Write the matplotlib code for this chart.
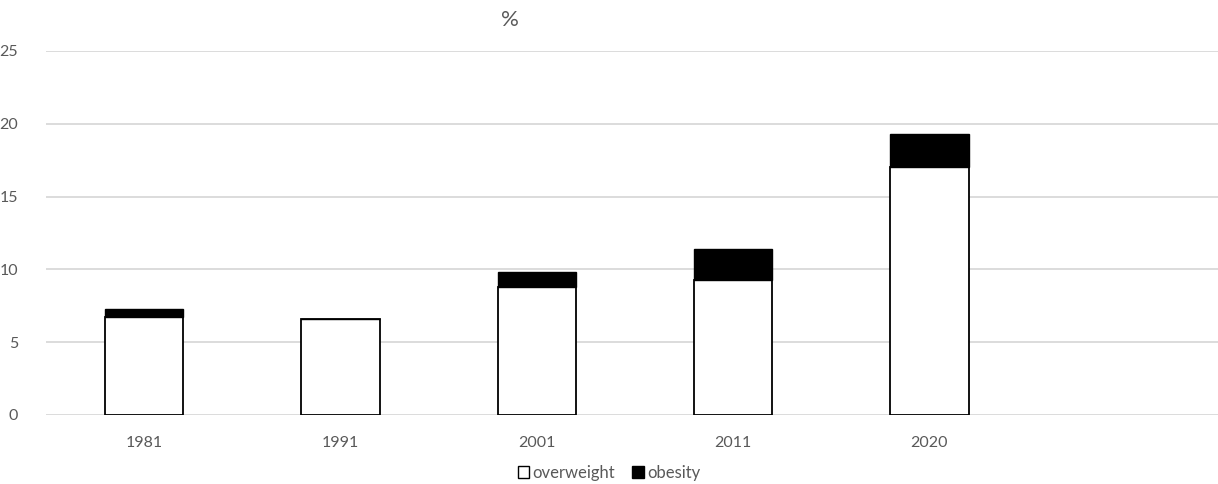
import numpy as np
import matplotlib.pyplot as plt
from matplotlib.patches import Patch

plt.rcParams['font.family'] = ['Lato', 'DejaVu Sans']

years = ['1981', '1991', '2001', '2011', '2020']
overweight = [6.7, 6.6, 8.8, 9.3, 17.0]
obesity = [0.6, 0.0, 1.0, 2.1, 2.3]

grey = '#595959'
grid = '#d9d9d9'

fig = plt.figure(figsize=(12.18, 4.84), dpi=100)
ax = fig.add_axes([46 / 1218, 1 - 415 / 484, 1 - 46 / 1218, (415 - 51) / 484])

x = np.arange(len(years))
w = 0.4
ax.bar(x, overweight, w, color='white', edgecolor='black', linewidth=1.3, zorder=3)
ax.bar(x, obesity, w, bottom=overweight, color='black', edgecolor='black',
       linewidth=1.0, zorder=3)

# an empty sixth slot is left on the right
ax.set_xlim(-0.5, 5.47)
ax.set_ylim(0, 25)
ax.set_yticks(range(0, 26, 5))
ax.set_xticks(x)
ax.set_xticklabels(years)
ax.yaxis.grid(True, color=grid, linewidth=1.3, zorder=0)
for s in ax.spines.values():
    s.set_visible(False)
ax.tick_params(axis='both', length=0, colors=grey, labelsize=11.5)
ax.tick_params(axis='y', pad=20)
ax.tick_params(axis='x', pad=15)

fig.text(510 / 1218, 1 - 20 / 484, '%', ha='center', va='center',
         fontsize=16, color=grey)

handles = [Patch(facecolor='white', edgecolor='black', linewidth=1.0),
           Patch(facecolor='black', edgecolor='black')]
fig.legend(handles, ['overweight', 'obesity'], loc='center',
           bbox_to_anchor=(609 / 1218, 1 - 473 / 484), ncol=2, frameon=False,
           fontsize=12, labelcolor=grey, handlelength=0.7, handleheight=0.7,
           handletextpad=0.2, columnspacing=1.0)

fig.savefig('out.png', dpi=100)
